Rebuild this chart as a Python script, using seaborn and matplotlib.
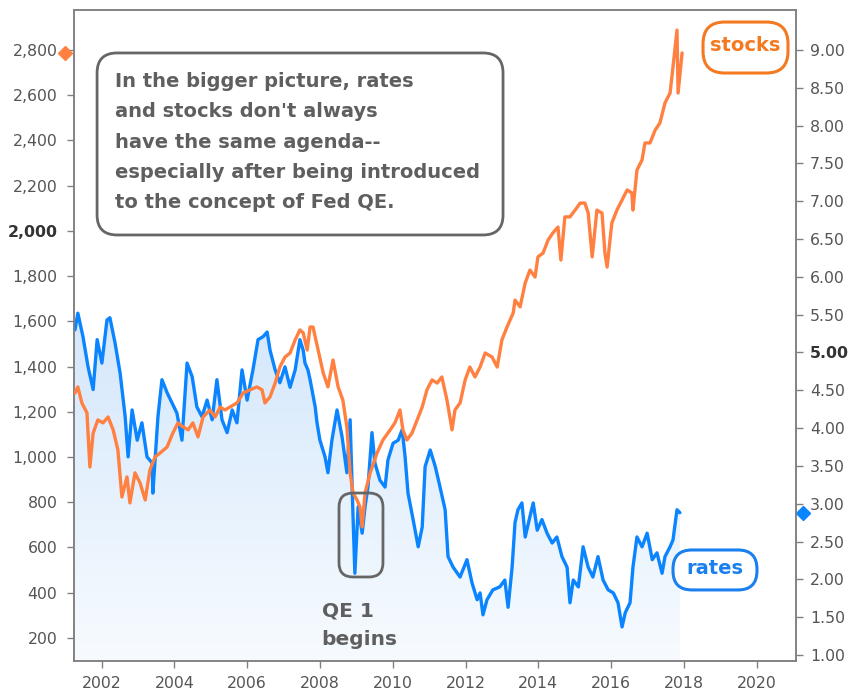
import numpy as np
import matplotlib
matplotlib.use("Agg")
import matplotlib.pyplot as plt
import matplotlib.transforms as mtransforms
from matplotlib.colors import LinearSegmentedColormap
from matplotlib.patches import FancyBboxPatch
from matplotlib.ticker import FuncFormatter
import seaborn as sns

# S&P 500 (left axis)
stock_years = [2001.27, 2001.35, 2001.46, 2001.60, 2001.68, 2001.77, 2001.90, 2002.04, 2002.18, 2002.32,
               2002.45, 2002.56, 2002.70, 2002.78, 2002.92, 2003.06, 2003.20, 2003.33, 2003.47, 2003.61,
               2003.80, 2003.96, 2004.10, 2004.24, 2004.38, 2004.51, 2004.65, 2004.79, 2004.98, 2005.12,
               2005.26, 2005.39, 2005.53, 2005.72, 2005.89, 2006.08, 2006.27, 2006.41, 2006.49, 2006.63,
               2006.77, 2006.90, 2007.04, 2007.18, 2007.32, 2007.45, 2007.54, 2007.65, 2007.73, 2007.81,
               2007.95, 2008.09, 2008.22, 2008.36, 2008.50, 2008.63, 2008.74, 2008.83, 2008.91, 2009.02,
               2009.10, 2009.16, 2009.24, 2009.38, 2009.57, 2009.73, 2009.93, 2010.06, 2010.20, 2010.28,
               2010.39, 2010.53, 2010.67, 2010.81, 2010.94, 2011.08, 2011.22, 2011.35, 2011.49, 2011.63,
               2011.71, 2011.85, 2011.99, 2012.12, 2012.26, 2012.40, 2012.54, 2012.73, 2012.87, 2013.00,
               2013.14, 2013.31, 2013.36, 2013.50, 2013.64, 2013.77, 2013.91, 2013.99, 2014.13, 2014.27,
               2014.40, 2014.54, 2014.62, 2014.73, 2014.87, 2015.01, 2015.15, 2015.28, 2015.37, 2015.48,
               2015.61, 2015.75, 2015.83, 2015.89, 2016.02, 2016.16, 2016.30, 2016.44, 2016.57, 2016.60,
               2016.71, 2016.85, 2016.93, 2017.07, 2017.21, 2017.34, 2017.48, 2017.62, 2017.70, 2017.81,
               2017.84, 2017.95]
stock_vals = [1283, 1310, 1239, 1195, 956, 1106, 1164, 1151, 1177, 1120,
              1031, 823, 912, 797, 930, 885, 810, 943, 1000, 1018,
              1044, 1106, 1151, 1133, 1120, 1151, 1089, 1177, 1208, 1177,
              1221, 1208, 1221, 1239, 1283, 1297, 1310, 1297, 1239, 1266,
              1327, 1398, 1442, 1460, 1518, 1562, 1549, 1473, 1575, 1575,
              1473, 1372, 1310, 1429, 1310, 1252, 1133, 930, 841, 810,
              779, 691, 841, 930, 1018, 1075, 1120, 1151, 1208, 1120,
              1075, 1106, 1164, 1221, 1297, 1341, 1327, 1354, 1252, 1120,
              1208, 1239, 1341, 1398, 1354, 1398, 1460, 1442, 1398, 1518,
              1575, 1637, 1694, 1664, 1770, 1827, 1796, 1885, 1902, 1960,
              1991, 2017, 1871, 2062, 2062, 2092, 2123, 2123, 2079, 1885,
              2092, 2079, 1902, 1840, 2035, 2092, 2137, 2181, 2168, 2092,
              2269, 2314, 2389, 2389, 2446, 2477, 2566, 2610, 2725, 2888,
              2610, 2787]

# 10y yield (right axis)
rate_years = [2001.27, 2001.35, 2001.49, 2001.63, 2001.77, 2001.88, 2002.01, 2002.15, 2002.23, 2002.37,
              2002.51, 2002.65, 2002.73, 2002.84, 2002.98, 2003.11, 2003.25, 2003.39, 2003.41, 2003.55,
              2003.66, 2003.80, 2003.94, 2004.07, 2004.21, 2004.35, 2004.49, 2004.62, 2004.76, 2004.90,
              2005.04, 2005.17, 2005.31, 2005.45, 2005.59, 2005.72, 2005.86, 2006.00, 2006.16, 2006.30,
              2006.44, 2006.55, 2006.63, 2006.77, 2006.90, 2007.04, 2007.18, 2007.32, 2007.45, 2007.54,
              2007.59, 2007.67, 2007.73, 2007.78, 2007.87, 2007.92, 2008.00, 2008.14, 2008.22, 2008.33,
              2008.47, 2008.61, 2008.74, 2008.83, 2008.91, 2008.96, 2009.05, 2009.16, 2009.24, 2009.32,
              2009.43, 2009.51, 2009.65, 2009.79, 2009.87, 2010.01, 2010.15, 2010.26, 2010.34, 2010.42,
              2010.56, 2010.70, 2010.81, 2010.89, 2011.03, 2011.17, 2011.30, 2011.44, 2011.52, 2011.66,
              2011.85, 2012.04, 2012.18, 2012.32, 2012.40, 2012.48, 2012.59, 2012.75, 2012.94, 2013.08,
              2013.17, 2013.28, 2013.36, 2013.44, 2013.55, 2013.64, 2013.77, 2013.86, 2013.97, 2014.10,
              2014.24, 2014.38, 2014.51, 2014.65, 2014.79, 2014.87, 2014.96, 2015.10, 2015.23, 2015.37,
              2015.50, 2015.64, 2015.78, 2015.92, 2016.06, 2016.19, 2016.30, 2016.39, 2016.52, 2016.60,
              2016.71, 2016.85, 2016.99, 2017.13, 2017.26, 2017.40, 2017.48, 2017.62, 2017.70, 2017.81,
              2017.89]
rate_vals = [5.30, 5.52, 5.21, 4.81, 4.51, 5.17, 4.86, 5.43, 5.46, 5.13,
             4.73, 4.15, 3.62, 4.24, 3.84, 4.07, 3.62, 3.54, 3.14, 4.15,
             4.64, 4.47, 4.33, 4.20, 3.84, 4.86, 4.68, 4.28, 4.15, 4.37,
             4.11, 4.64, 4.11, 3.94, 4.24, 4.07, 4.77, 4.37, 4.77, 5.17,
             5.21, 5.27, 5.03, 4.77, 4.60, 4.81, 4.54, 4.77, 5.17, 5.03,
             4.86, 4.77, 4.64, 4.51, 4.28, 4.07, 3.84, 3.62, 3.41, 3.84,
             4.24, 3.88, 3.41, 4.11, 2.83, 2.08, 2.96, 2.61, 2.96, 3.22,
             3.94, 3.54, 3.31, 3.22, 3.58, 3.80, 3.84, 3.98, 3.62, 3.14,
             2.79, 2.43, 2.69, 3.49, 3.71, 3.49, 3.22, 2.92, 2.30, 2.16,
             2.03, 2.26, 1.95, 1.73, 1.82, 1.53, 1.73, 1.86, 1.90, 1.99,
             1.63, 2.16, 2.75, 2.92, 3.01, 2.56, 2.83, 3.01, 2.65, 2.79,
             2.61, 2.48, 2.56, 2.30, 2.16, 1.69, 1.99, 1.90, 2.43, 2.16,
             2.03, 2.30, 1.99, 1.86, 1.82, 1.69, 1.37, 1.56, 1.69, 2.16,
             2.56, 2.43, 2.61, 2.26, 2.35, 2.08, 2.30, 2.43, 2.52, 2.92,
             2.88]

stock_ticks = list(range(200, 3000, 200))
rate_ticks = [1.0 + 0.5 * i for i in range(17)]
year_ticks = list(range(2002, 2022, 2))

note = ["In the bigger picture, rates",
        "and stocks don't always",
        "have the same agenda--",
        "especially after being introduced",
        "to the concept of Fed QE."]

orange = "#ff8040"
blue = "#0a84ff"
grey_txt = "#5f5f5f"

sns.set_style("ticks")
plt.rcParams['font.family'] = ['DejaVu Sans']

fig = plt.figure(figsize=(8.53, 6.94), dpi=100)
ax_r = fig.add_axes([0.0868, 0.0476, 0.8464, 0.938])
ax_s = ax_r.twinx()
ax_r.yaxis.tick_right()
ax_s.yaxis.tick_left()

r_lo, r_hi = 0.92, 9.53
s_lo, s_hi = 98, 2977

# light gradient under the rates line
fill = ax_r.fill_between(rate_years, rate_vals, r_lo, color='none', lw=0)
grad = np.linspace(0, 1, 256).reshape(-1, 1)
cmap = LinearSegmentedColormap.from_list('fade', ['#f7fbff', '#d4e7fb'])
im = ax_r.imshow(grad, extent=[rate_years[0], rate_years[-1], r_lo, max(rate_vals)],
                 origin='lower', aspect='auto', cmap=cmap, zorder=1)
im.set_clip_path(fill.get_paths()[0], transform=ax_r.transData)

sns.lineplot(x=rate_years, y=rate_vals, ax=ax_r, color=blue, linewidth=2.4, zorder=3)
sns.lineplot(x=stock_years, y=stock_vals, ax=ax_s, color=orange, linewidth=2.4, zorder=3)

ax_r.set_xlim(2001.245, 2021.08)
ax_r.set_ylim(r_lo, r_hi)
ax_s.set_ylim(s_lo, s_hi)
ax_r.set_xticks(year_ticks)
ax_r.set_yticks(rate_ticks)
ax_s.set_yticks(stock_ticks)
ax_r.yaxis.set_major_formatter(FuncFormatter(lambda v, p: f"{v:.2f}"))
ax_s.yaxis.set_major_formatter(FuncFormatter(lambda v, p: f"{int(v):,}"))
for a in (ax_r, ax_s):
    a.set_xlabel('')
    a.set_ylabel('')
    for sp in a.spines.values():
        sp.set_visible(True)
        sp.set_color('#808080')
        sp.set_linewidth(1.1)
    a.tick_params(direction='out', length=5, width=1, color='#808080',
                  labelsize=11.3, labelcolor='#555555')
ax_r.tick_params(axis='x', pad=6)
ax_r.tick_params(axis='y', pad=5)
ax_s.tick_params(axis='y', pad=7)

for lab in ax_s.get_yticklabels():
    if lab.get_text() == '2,000':
        lab.set_fontweight('bold')
        lab.set_color('#333333')
for lab in ax_r.get_yticklabels():
    if lab.get_text() == '5.00':
        lab.set_fontweight('bold')
        lab.set_color('#333333')

# last value markers on the axes
bl_s = mtransforms.blended_transform_factory(ax_s.transAxes, ax_s.transData)
bl_r = mtransforms.blended_transform_factory(ax_r.transAxes, ax_r.transData)
ax_s.plot([-0.0125], [stock_vals[-1]], marker='D', ms=7, color=orange, transform=bl_s, clip_on=False)
ax_s.plot([1.0097], [rate_vals[-1]], marker='D', ms=7, color=blue, transform=bl_r, clip_on=False)

# annotation boxes (axes fraction)
asp = 722 / 651
def rbox(x0, y0, w, h, r, ec, lw=2, fc='none'):
    p = FancyBboxPatch((x0, y0), w, h, boxstyle=f"round,pad=0,rounding_size={r}",
                       mutation_aspect=asp, transform=ax_s.transAxes, ec=ec, fc=fc,
                       lw=lw, zorder=5, clip_on=False)
    ax_s.add_patch(p)

rbox(0.0319, 0.6544, 0.5623, 0.2796, 0.0277, '#666666', lw=2, fc='white')
for i, line in enumerate(note):
    ax_s.text(0.0568, 0.8817 - i * 0.04654, line, transform=ax_s.transAxes,
              fontsize=14, fontweight='bold', color=grey_txt, va='baseline', ha='left', zorder=6)

rbox(0.367, 0.129, 0.0609, 0.129, 0.0194, '#666666', lw=2)
ax_s.text(0.343, 0.0676, "QE 1", transform=ax_s.transAxes, fontsize=14.5, fontweight='bold',
          color=grey_txt, va='baseline', ha='left', zorder=6)
ax_s.text(0.343, 0.0246, "begins", transform=ax_s.transAxes, fontsize=14.5, fontweight='bold',
          color=grey_txt, va='baseline', ha='left', zorder=6)

rbox(0.8712, 0.9032, 0.1177, 0.0783, 0.03, '#f47920', lw=2.2, fc='white')
ax_s.text(0.930, 0.945, "stocks", transform=ax_s.transAxes, fontsize=14, fontweight='bold',
          color='#f47920', va='center', ha='center', zorder=6)
rbox(0.8296, 0.1091, 0.1163, 0.0614, 0.0263, '#1a80f0', lw=2.2, fc='white')
ax_s.text(0.888, 0.142, "rates", transform=ax_s.transAxes, fontsize=14, fontweight='bold',
          color='#1a80f0', va='center', ha='center', zorder=6)

fig.savefig("out.png", dpi=100)
